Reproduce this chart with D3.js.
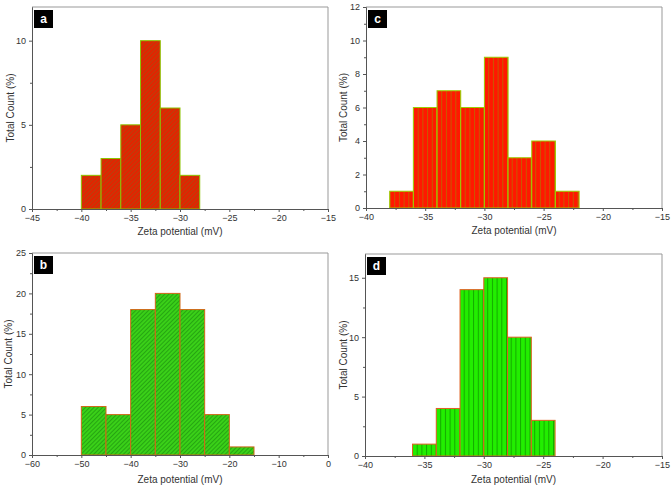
<!DOCTYPE html>
<html><head><meta charset="utf-8">
<script src="https://cdn.jsdelivr.net/npm/d3@7"></script>
<style>body{margin:0;background:#fff}svg{display:block}text{font-family:"Liberation Sans",Arial,sans-serif}</style>
</head><body>
<svg id="c" width="672" height="485"></svg>
<script>
// Panel a
const aBins = [-40,-38,-36,-34,-32,-30,-28];
const aCounts = [2,3,5,10,6,2];
const aXTicks = [-45,-40,-35,-30,-25,-20,-15];
const aYTicks = [0,5,10];
// Panel c
const cBins = [-38,-36,-34,-32,-30,-28,-26,-24,-22];
const cCounts = [1,6,7,6,9,3,4,1];
const cXTicks = [-40,-35,-30,-25,-20,-15];
const cYTicks = [0,2,4,6,8,10,12];
// Panel b
const bBins = [-50,-45,-40,-35,-30,-25,-20,-15];
const bCounts = [6,5,18,20,18,5,1];
const bXTicks = [-60,-50,-40,-30,-20,-10,0];
const bYTicks = [0,5,10,15,20,25];
// Panel d
const dBins = [-36,-34,-32,-30,-28,-26,-24];
const dCounts = [1,4,14,15,10,3];
const dXTicks = [-40,-35,-30,-25,-20,-15];
const dYTicks = [0,5,10,15];

const panels = [
  {id:"a", bins:aBins, counts:aCounts, xt:aXTicks, yt:aYTicks, xdom:[-45,-15], ydom:[0,12], xminor:2.5, yminor:2.5,
   box:{l:32,r:328,t:7,b:209}, fill:"#e22400", line:"#b8420c", stroke:"#8cc400", pat:"diag", titleX:22, titleY:22},
  {id:"c", bins:cBins, counts:cCounts, xt:cXTicks, yt:cYTicks, xdom:[-40,-15], ydom:[0,12], xminor:2.5, yminor:1,
   box:{l:366,r:662,t:7,b:208}, fill:"#ff1800", line:"#c85a00", stroke:"#9ccc00", pat:"vert", titleX:23, titleY:22},
  {id:"b", bins:bBins, counts:bCounts, xt:bXTicks, yt:bYTicks, xdom:[-60,0], ydom:[0,25], xminor:5, yminor:2.5,
   box:{l:32,r:328,t:253,b:455}, fill:"#3ad018", line:"#24a012", stroke:"#d06818", pat:"diag", titleX:24, titleY:24},
  {id:"d", bins:dBins, counts:dCounts, xt:dXTicks, yt:dYTicks, xdom:[-40,-15], ydom:[0,17], xminor:2.5, yminor:2.5,
   box:{l:365,r:662,t:254,b:456}, fill:"#22ee00", line:"#14a800", stroke:"#e06020", pat:"vert", titleX:22, titleY:23}
];

const svg = d3.select("#c");
const defs = svg.append("defs");

panels.forEach(p => {
  const pid = "pat-" + p.id;
  if (p.pat === "diag") {
    const pat = defs.append("pattern").attr("id", pid).attr("patternUnits","userSpaceOnUse")
      .attr("width", 3).attr("height", 3).attr("patternTransform","rotate(45)");
    pat.append("rect").attr("width",3).attr("height",3).attr("fill",p.fill);
    pat.append("line").attr("x1",0.5).attr("x2",0.5).attr("y1",0).attr("y2",3).attr("stroke",p.line).attr("stroke-width",0.9);
  } else {
    const pat = defs.append("pattern").attr("id", pid).attr("patternUnits","userSpaceOnUse")
      .attr("width", 4.7).attr("height", 10).attr("x", p.box.l);
    pat.append("rect").attr("width",4.7).attr("height",10).attr("fill",p.fill);
    pat.append("rect").attr("x",0).attr("width",1).attr("height",10).attr("fill",p.line);
  }

  const x = d3.scaleLinear().domain(p.xdom).range([p.box.l, p.box.r]);
  const y = d3.scaleLinear().domain(p.ydom).range([p.box.b, p.box.t]);
  const g = svg.append("g");

  // bars
  const data = p.counts.map((c,i)=>({x0:p.bins[i], x1:p.bins[i+1], c}));
  g.selectAll("rect.bar").data(data).enter().append("rect").attr("class","bar")
    .attr("x", d=>x(d.x0)).attr("width", d=>x(d.x1)-x(d.x0))
    .attr("y", d=>y(d.c)).attr("height", d=>y(0)-y(d.c))
    .attr("fill", "url(#"+pid+")").attr("stroke", p.stroke).attr("stroke-width", 1);

  // frame top/right
  g.append("line").attr("x1",p.box.l).attr("x2",p.box.r).attr("y1",p.box.t).attr("y2",p.box.t).attr("stroke","#999");
  g.append("line").attr("x1",p.box.r).attr("x2",p.box.r).attr("y1",p.box.t).attr("y2",p.box.b).attr("stroke","#999");

  // minor ticks
  const xm = d3.range(p.xdom[0], p.xdom[1]+1e-9, p.xminor).filter(v=>!p.xt.includes(v));
  const ym = d3.range(p.ydom[0], p.ydom[1]+1e-9, p.yminor).filter(v=>!p.yt.includes(v));

  const xAxis = d3.axisBottom(x).tickValues(p.xt).tickSize(3).tickSizeOuter(0).tickFormat(d3.format("d"));
  const yAxis = d3.axisLeft(y).tickValues(p.yt).tickSize(3).tickSizeOuter(0).tickFormat(d3.format("d"));
  const xg = g.append("g").attr("transform",`translate(0,${p.box.b})`).call(xAxis);
  const yg = g.append("g").attr("transform",`translate(${p.box.l},0)`).call(yAxis);
  const xmg = g.append("g").attr("transform",`translate(0,${p.box.b})`)
    .call(d3.axisBottom(x).tickValues(xm).tickSize(2).tickSizeOuter(0).tickFormat(""));
  const ymg = g.append("g").attr("transform",`translate(${p.box.l},0)`)
    .call(d3.axisLeft(y).tickValues(ym).tickSize(2).tickSizeOuter(0).tickFormat(""));
  [xg,yg,xmg,ymg].forEach(a=>{
    a.select(".domain").attr("stroke","#555");
    a.selectAll(".tick line").attr("stroke","#555");
    a.selectAll("text").attr("fill","#333").style("font-size","9px").style("font-family","'Liberation Sans',Arial,sans-serif");
  });
  xg.selectAll("text").attr("y",6);
  yg.selectAll("text").attr("x",-6);

  // axis titles
  g.append("text").attr("x",(p.box.l+p.box.r)/2).attr("y",p.box.b+p.titleY).attr("dy","0.35em")
    .attr("text-anchor","middle").attr("fill","#333").style("font-size","10px").text("Zeta potential (mV)");
  g.append("text").attr("transform",`translate(${p.box.l-p.titleX},${(p.box.t+p.box.b)/2}) rotate(-90)`)
    .attr("dy","0.35em").attr("text-anchor","middle").attr("fill","#333").style("font-size","10px").text("Total Count (%)");

  // panel label
  g.append("rect").attr("x",p.box.l+2).attr("y",p.box.t+3).attr("width",19).attr("height",18).attr("fill","#000");
  g.append("text").attr("x",p.box.l+11.5).attr("y",p.box.t+12).attr("dy","0.35em").attr("text-anchor","middle")
    .attr("fill","#fff").style("font-size","12px").style("font-weight","bold").text(p.id);
});
</script>
</body></html>
